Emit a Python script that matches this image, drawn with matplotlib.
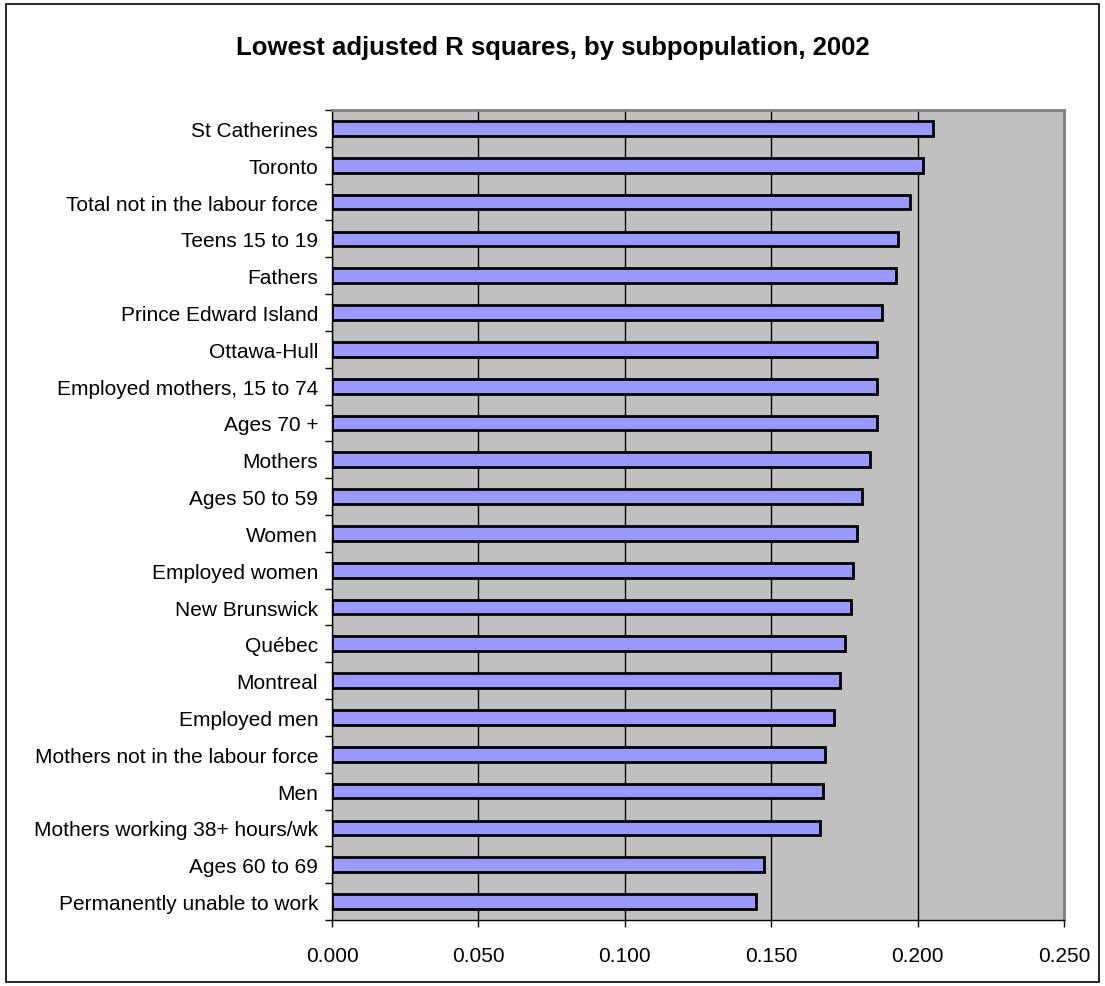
import numpy as np
import matplotlib.pyplot as plt
from matplotlib.patches import Rectangle

plt.rcParams['font.family'] = ['Liberation Sans', 'DejaVu Sans']

# subpopulations, listed top to bottom
groups = [
    "St Catherines", "Toronto", "Total not in the labour force", "Teens 15 to 19",
    "Fathers", "Prince Edward Island", "Ottawa-Hull", "Employed mothers, 15 to 74",
    "Ages 70 +", "Mothers", "Ages 50 to 59", "Women", "Employed women",
    "New Brunswick", "Québec", "Montreal", "Employed men",
    "Mothers not in the labour force", "Men", "Mothers working 38+ hours/wk",
    "Ages 60 to 69", "Permanently unable to work",
]
r_squared = [
    0.2051, 0.2017, 0.1972, 0.1932, 0.1926, 0.1878, 0.1861, 0.1861,
    0.1860, 0.1837, 0.1809, 0.1793, 0.1779, 0.1772, 0.1752, 0.1735,
    0.1713, 0.1682, 0.1677, 0.1665, 0.1475, 0.1447,
]
x_ticks = [0.0, 0.05, 0.10, 0.15, 0.20, 0.25]

fig = plt.figure(figsize=(11.05, 9.87), dpi=100)
ax = fig.add_axes([0.3005, 0.0669, 0.6625, 0.8206])

pos = np.arange(len(groups))
ax.barh(pos, r_squared, height=0.4, color="#9999FF", edgecolor="black",
        linewidth=2, zorder=3)

ax.set_facecolor("#C0C0C0")
ax.set_xlim(0, 0.25)
ax.set_ylim(len(groups) - 0.5, -0.5)

ax.set_xticks(x_ticks)
ax.set_xticklabels([f"{v:.3f}" for v in x_ticks], fontsize=15)
ax.tick_params(axis="x", direction="out", length=5, width=1, pad=14)
ax.xaxis.grid(True, color="black", linewidth=1, zorder=1)
ax.set_axisbelow(True)

# category labels at bar centres, tick marks on the boundaries
ax.set_yticks(pos)
ax.set_yticklabels(groups, fontsize=15)
ax.tick_params(axis="y", which="major", length=0, pad=10)
ax.set_yticks(np.arange(len(groups) + 1) - 0.5, minor=True)
ax.tick_params(axis="y", which="minor", direction="out", length=5, width=1)

for side in ["top", "right"]:
    ax.spines[side].set_color("#808080")
    ax.spines[side].set_linewidth(2)
for side in ["left", "bottom"]:
    ax.spines[side].set_color("black")
    ax.spines[side].set_linewidth(1)

fig.text(0.5, 0.951, "Lowest adjusted R squares, by subpopulation, 2002",
         ha="center", va="center", fontsize=18.5, fontweight="bold")

fig.patches.append(Rectangle((0.005, 0.004), 0.99, 0.991, transform=fig.transFigure,
                             fill=False, edgecolor="black", linewidth=1.2))

fig.savefig("out.png", dpi=100)
